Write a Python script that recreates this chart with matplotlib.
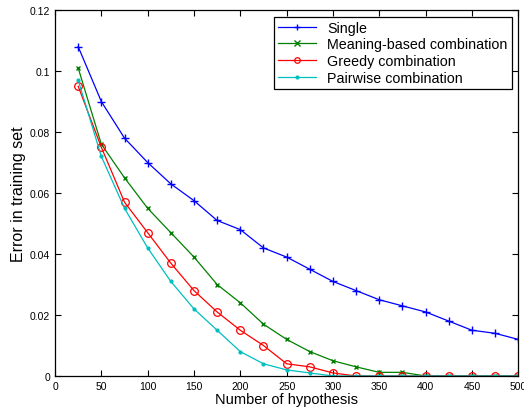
import numpy as np
import matplotlib
matplotlib.use("Agg")
import matplotlib.pyplot as plt

plt.rcParams['font.family'] = ['Liberation Sans', 'DejaVu Sans']

# Number of hypotheses and training errors per method
hyp = [25, 50, 75, 100, 125, 150, 175, 200, 225, 250,
       275, 300, 325, 350, 375, 400, 425, 450, 475, 500]
single = [0.108, 0.090, 0.078, 0.070, 0.063, 0.0575, 0.051, 0.048, 0.042, 0.039,
          0.035, 0.031, 0.028, 0.025, 0.023, 0.021, 0.018, 0.015, 0.014, 0.012]
meaning = [0.101, 0.076, 0.065, 0.055, 0.047, 0.039, 0.030, 0.024, 0.017, 0.012,
           0.008, 0.005, 0.003, 0.0012, 0.0012, 0.0, 0.0, 0.0, 0.0, 0.0]
greedy = [0.095, 0.075, 0.057, 0.047, 0.037, 0.028, 0.021, 0.015, 0.010, 0.004,
          0.003, 0.001, 0.0, 0.0, 0.0, 0.0, 0.0, 0.0, 0.0, 0.0]
pairwise = [0.097, 0.072, 0.055, 0.042, 0.031, 0.022, 0.015, 0.008, 0.004, 0.002,
            0.001, 0.0, 0.0, 0.0, 0.0, 0.0, 0.0, 0.0, 0.0, 0.0]
labels = ['Single', 'Meaning-based combination', 'Greedy combination', 'Pairwise combination']

fig = plt.figure(figsize=(5.24, 4.10), dpi=100)
ax = fig.add_axes([0.105, 0.0805, 0.884, 0.8925])

ax.plot(hyp, single, color=(0, 0, 1), marker='+', markersize=6, lw=0.9, label=labels[0])
ax.plot(hyp, meaning, color=(0, 0.5, 0), marker='x', markersize=3, lw=0.9, label=labels[1])
ax.plot(hyp, greedy, color=(1, 0, 0), marker='o', markersize=5.5, mfc='none', mew=0.9, lw=0.9, label=labels[2])
ax.plot(hyp, pairwise, color=(0, 0.75, 0.75), marker='.', markersize=4, lw=0.9, label=labels[3])

ax.set_xlim(0, 500)
ax.set_ylim(0, 0.12)
ax.set_xticks(np.arange(0, 501, 50))
ax.set_yticks([0, 0.02, 0.04, 0.06, 0.08, 0.1, 0.12])
ax.set_yticklabels(['0', '0.02', '0.04', '0.06', '0.08', '0.1', '0.12'])
ax.tick_params(direction='in', top=True, right=True, labelsize=7.5, length=4, width=0.8)
for s in ax.spines.values():
    s.set_linewidth(0.9)

ax.set_xlabel('Number of hypothesis', fontsize=10.5, labelpad=1)
ax.set_ylabel('Error in training set', fontsize=11.5, labelpad=3)

leg = ax.legend(loc='upper right', fontsize=10.3, fancybox=False, edgecolor='black',
                framealpha=1, borderpad=0.3, labelspacing=0.18, handlelength=2.6,
                handletextpad=0.8, borderaxespad=0.45)
leg.get_frame().set_linewidth(0.9)
for h in leg.legend_handles:
    h.set_markersize(4)

fig.savefig('out.png', dpi=100)
